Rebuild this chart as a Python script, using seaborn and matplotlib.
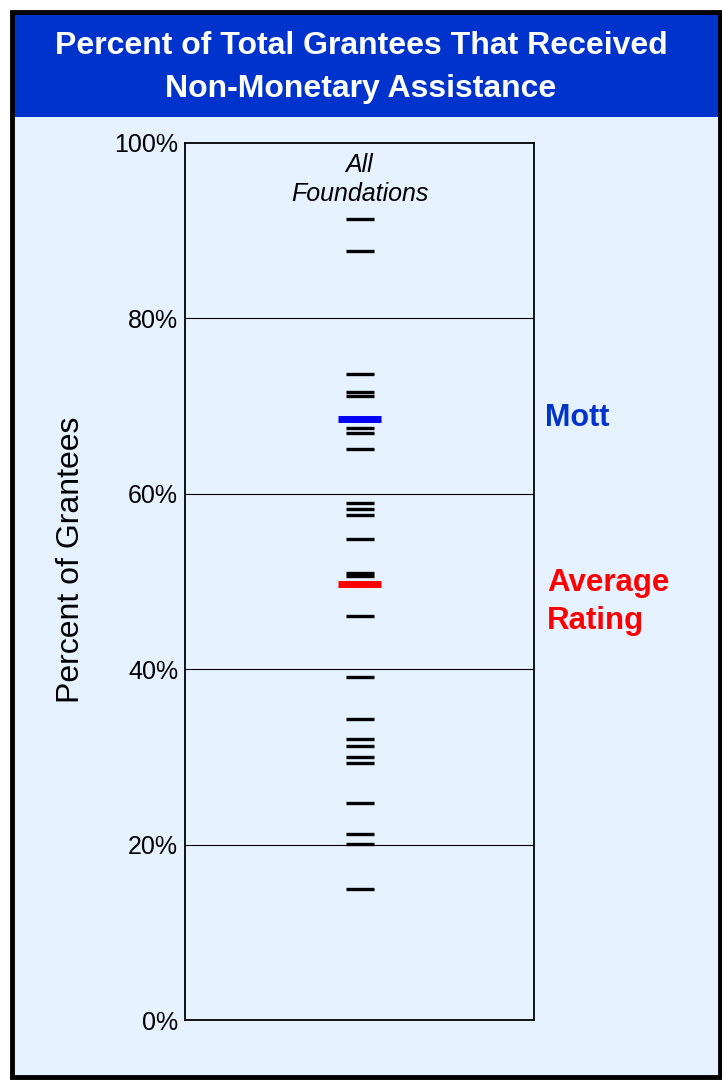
import matplotlib
matplotlib.use("Agg")
import matplotlib.pyplot as plt
import matplotlib.patches as mpatches
import numpy as np
import pandas as pd
import seaborn as sns

# values (percent of grantees)
foundation_values = [91.3, 87.7, 73.7, 71.6, 71.2, 67.5, 66.9, 65.1, 59.0, 58.3,
                     57.6, 54.9, 51.0, 50.6, 46.1, 39.1, 34.3, 32.0, 31.2, 30.0,
                     29.3, 24.8, 21.2, 20.1, 14.9]
mott_value = 68.5
average_value = 49.7
y_ticks = [0, 20, 40, 60, 80, 100]
y_tick_labels = ["0%", "20%", "40%", "60%", "80%", "100%"]

sns.set_theme(style="white")
plt.rcParams["font.family"] = ["Liberation Sans", "DejaVu Sans"]
plt.rcParams["text.color"] = "black"
plt.rcParams["ytick.color"] = "black"

bg = "#E6F2FF"
fig = plt.figure(figsize=(7.22, 10.81), dpi=100)
fig.patch.set_facecolor("white")

# panel background, title band and border
W, H = 722, 1081
def fx(px):
    return px / W
def fy(py):
    return 1 - py / H

fig.patches.append(mpatches.Rectangle((fx(12), fy(1077)), fx(708), 1064 / H,
                                      transform=fig.transFigure, facecolor=bg,
                                      edgecolor="none", zorder=-3))
fig.patches.append(mpatches.Rectangle((fx(12), fy(117)), fx(708), 105 / H,
                                      transform=fig.transFigure, facecolor="#0033CC",
                                      edgecolor="none", zorder=-2))
fig.patches.append(mpatches.Rectangle((fx(12), fy(1077)), fx(708), 1065 / H,
                                      transform=fig.transFigure, facecolor="none",
                                      edgecolor="black", linewidth=3.5, zorder=2))

fig.text(0.5, fy(46), "Percent of Total Grantees That Received", ha="center", va="center",
         color="white", fontsize=23, fontweight="bold")
fig.text(0.5, fy(89), "Non-Monetary Assistance", ha="center", va="center",
         color="white", fontsize=23, fontweight="bold")

ax = fig.add_axes([fx(185), fy(1020), 349 / W, 877 / H])
ax.set_facecolor(bg)

df = pd.DataFrame({"x": [0] * len(foundation_values), "y": foundation_values})
sns.scatterplot(data=df, x="x", y="y", marker="_", s=430, color="black",
                linewidth=2.4, ax=ax, zorder=3, legend=False)
hl = pd.DataFrame({"x": [0, 0], "y": [mott_value, average_value],
                   "group": ["Mott", "Average"]})
sns.scatterplot(data=hl, x="x", y="y", hue="group", marker="_", s=1000,
                palette={"Mott": "#0000FF", "Average": "#FF0000"},
                linewidth=5, ax=ax, zorder=4, legend=False)

ax.set_xlim(-1, 1)
ax.set_ylim(0, 100)
ax.set_yticks(y_ticks)
ax.set_yticklabels(y_tick_labels, fontsize=18, color="black")
ax.set_xticks([])
ax.set_xlabel("")
ax.set_ylabel("")
ax.tick_params(axis="y", direction="in", length=5, width=1, pad=5, colors="black")
for yv in y_ticks[1:-1]:
    ax.axhline(yv, color="black", linewidth=0.8, zorder=1)
for sp in ax.spines.values():
    sp.set_color("black")
    sp.set_linewidth(1.3)

fig.text(fx(71), fy(560), "Percent of Grantees", rotation=90, ha="center", va="center",
         fontsize=23, color="black")

ax.text(0, 97.5, "All", ha="center", va="center", fontsize=18, style="italic")
ax.text(0, 94.2, "Foundations", ha="center", va="center", fontsize=18, style="italic")

fig.text(fx(545), fy(418), "Mott", ha="left", va="center", color="#0033CC",
         fontsize=22, fontweight="bold")
fig.text(fx(547), fy(583), "Average", ha="left", va="center", color="#FF0000",
         fontsize=22.5, fontweight="bold")
fig.text(fx(547), fy(621), "Rating", ha="left", va="center", color="#FF0000",
         fontsize=22.5, fontweight="bold")

fig.savefig("out.png", dpi=100, facecolor=fig.get_facecolor())
